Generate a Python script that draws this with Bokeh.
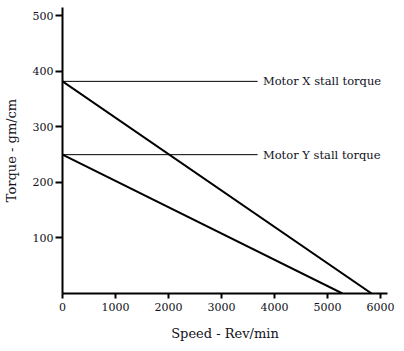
from bokeh.plotting import figure
from bokeh.models import Range1d, FixedTicker
from bokeh.core.properties import value
from bokeh.embed import file_html
from bokeh.resources import INLINE

# Data
speed_x = [0, 5830]
torque_x = [382, 0]
speed_y = [0, 5280]
torque_y = [250, 0]
stall_labels = ["Motor X stall torque", "Motor Y stall torque"]
stall_values = [382, 250]
stall_line_end = [3680, 3680]
stall_label_x = [3780, 3780]
x_ticks = [0, 1000, 2000, 3000, 4000, 5000, 6000]
y_ticks = [100, 200, 300, 400, 500]

FONT = "DejaVu Serif"

p = figure(width=404, height=351, output_backend="svg", toolbar_location=None,
           x_range=Range1d(0, 6130), y_range=Range1d(0, 515),
           min_border_left=62, min_border_right=17, min_border_top=7, min_border_bottom=58)
p.outline_line_color = None
p.xgrid.visible = False
p.ygrid.visible = False
p.background_fill_color = "white"
p.border_fill_color = "white"

for ax in (p.xaxis[0], p.yaxis[0]):
    ax.axis_line_width = 2
    ax.axis_line_color = "black"
    ax.major_tick_line_width = 2
    ax.major_tick_line_color = "black"
    ax.minor_tick_line_color = None
    ax.major_tick_in = 0
    ax.major_label_text_font = FONT
    ax.major_label_text_font_size = "11px"
    ax.major_label_text_color = "#111122"
    ax.axis_label_text_font = FONT
    ax.axis_label_text_font_size = "13px"
    ax.axis_label_text_font_style = "normal"
    ax.axis_label_text_color = "#111122"

p.xaxis.ticker = FixedTicker(ticks=x_ticks)
p.yaxis.ticker = FixedTicker(ticks=y_ticks)
p.xaxis.major_tick_out = 5
p.yaxis.major_tick_out = 7
p.xaxis.major_label_standoff = 4
p.yaxis.major_label_standoff = 2
p.xaxis.axis_label = "Speed - Rev/min"
p.yaxis.axis_label = "Torque - gm/cm"
p.xaxis.axis_label_standoff = 12
p.yaxis.axis_label_standoff = 11

p.line(speed_x, torque_x, line_color="black", line_width=2)
p.line(speed_y, torque_y, line_color="black", line_width=2)
p.segment(x0=[0, 0], y0=stall_values, x1=stall_line_end, y1=stall_values,
          line_color="black", line_width=1)
p.text(x=stall_label_x, y=stall_values, text=stall_labels,
       text_font=value(FONT), text_font_size="11.5px", text_baseline="middle",
       text_align="left", text_color="#111122")

open("out.html", "w").write(file_html(p, INLINE))
